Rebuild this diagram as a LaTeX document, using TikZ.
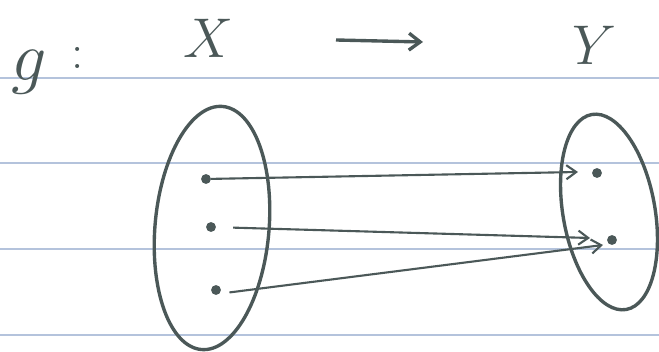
\documentclass[tikz,border=0pt]{standalone}
\usetikzlibrary{arrows.meta}
\definecolor{ink}{HTML}{4B5858}
\definecolor{ruling}{HTML}{B4C3DC}
\begin{document}
\begin{tikzpicture}[x=0.025cm,y=-0.025cm,
    pen/.style={draw=ink,line width=2.4pt},
    wire/.style={draw=ink,line width=1.5pt,-{Straight Barb[length=7pt,width=10pt]}},
    pt/.style={circle,fill=ink,inner sep=0pt,minimum size=7pt},
    lbl/.style={text=ink,inner sep=0pt,font=\Huge}]
    \useasboundingbox(0,0)rectangle(659,352);
    % ruled paper
    \draw[ruling,line width=0.8pt](0,78)--(659,78);
    \draw[ruling,line width=0.8pt](0,163)--(659,163);
    \draw[ruling,line width=0.8pt](0,249)--(659,249);
    \draw[ruling,line width=0.8pt](0,335)--(659,335);
    % heading
    \node[lbl](g)at(29,72){\scalebox{2}{$g$}};
    \node[lbl](colon)at(78,58){\scalebox{1.4}{$:$}};
    \node[lbl](X)at(208,38){\scalebox{1.6}{$X$}};
    \node[lbl](Y)at(594,45){\scalebox{1.6}{$Y$}};
    \coordinate(arrS)at(336,40);
    \coordinate(arrE)at(423,42);
    \draw[pen,-{Straight Barb[length=8pt,width=12pt]}](arrS)--(arrE);
    % the two sets
    \draw[pen,rotate around={-5:(212,228)}](212,228)ellipse[x radius=57,y radius=122];
    \draw[pen,rotate around={10:(609,212)}](609,212)ellipse[x radius=46,y radius=99];
    \node[pt](a1)at(206,179){};
    \node[pt](a2)at(211,227){};
    \node[pt](a3)at(216,290){};
    \node[pt](b1)at(597,173){};
    \node[pt](b2)at(612,240){};
    \coordinate(e1)at(578,172);
    \coordinate(e2)at(590,238);
    \coordinate(e3)at(603,245);
    % the map
    \draw[wire](a1)--(e1);
    \draw[wire,shorten <=12pt](a2)--(e2);
    \draw[wire,shorten <=7pt](a3.south east)--(e3);
\end{tikzpicture}
\end{document}
